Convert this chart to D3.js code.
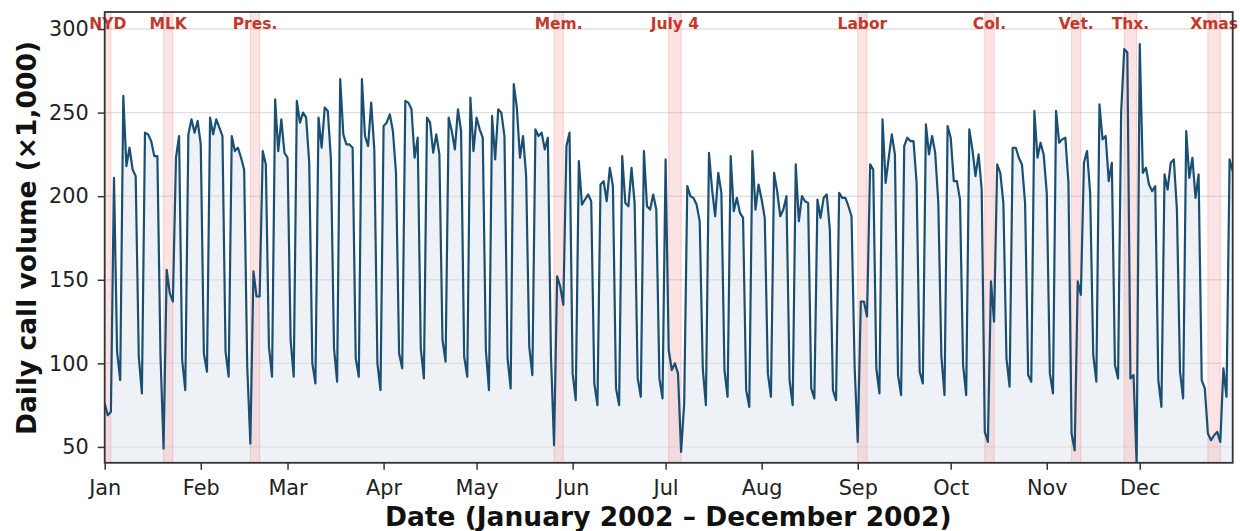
<!DOCTYPE html>
<meta charset="utf-8">
<html>
<head>
<script src="https://cdn.jsdelivr.net/npm/d3@7"></script>
<style>
  body { margin: 0; background: #fff; }
  text { font-family: "DejaVu Sans", sans-serif; }
</style>
</head>
<body>
<div id="chart"></div>
<script>
// daily call volume (x1,000), one row per week, starting Tue 1 Jan 2002
const volume = [
  76, 69, 71, 211, 107, 90, 260,
  218, 229, 216, 212, 104, 82, 238,
  237, 233, 224, 224, 105, 49, 156,
  142, 137, 223, 236, 102, 84, 237,
  246, 238, 245, 231, 106, 95, 247,
  237, 246, 241, 236, 107, 92, 236,
  227, 229, 223, 216, 98, 52, 155,
  140, 140, 227, 219, 110, 92, 258,
  227, 246, 226, 223, 114, 92, 257,
  244, 250, 247, 220, 100, 88, 247,
  229, 253, 251, 222, 109, 89, 270,
  237, 231, 231, 229, 103, 92, 270,
  236, 230, 256, 228, 100, 84, 242,
  244, 249, 239, 214, 106, 97, 257,
  256, 252, 223, 235, 109, 91, 247,
  244, 226, 237, 225, 114, 101, 247,
  239, 228, 252, 239, 104, 92, 259,
  227, 247, 240, 235, 108, 84, 248,
  222, 252, 250, 236, 103, 85, 267,
  253, 223, 236, 212, 110, 93, 240,
  236, 238, 228, 235, 105, 51, 152,
  146, 135, 230, 238, 94, 78, 221,
  195, 198, 201, 197, 88, 75, 207,
  209, 197, 217, 206, 85, 75, 224,
  196, 194, 217, 196, 91, 80, 227,
  194, 192, 201, 192, 91, 79, 222,
  108, 96, 100, 94, 47, 76, 206,
  200, 199, 195, 185, 97, 75, 226,
  204, 188, 214, 202, 96, 80, 224,
  191, 199, 190, 187, 84, 74, 227,
  192, 207, 198, 187, 94, 80, 214,
  203, 188, 192, 200, 90, 75, 219,
  185, 200, 197, 196, 85, 79, 198,
  187, 199, 201, 180, 84, 78, 202,
  199, 199, 194, 188, 98, 53, 137,
  137, 128, 219, 216, 97, 82, 246,
  208, 223, 237, 225, 93, 81, 230,
  235, 233, 233, 208, 95, 88, 243,
  225, 236, 226, 196, 104, 81, 242,
  235, 209, 209, 198, 99, 81, 240,
  228, 212, 225, 204, 59, 53, 149,
  125, 219, 214, 196, 103, 86, 229,
  229, 223, 219, 196, 93, 89, 251,
  223, 232, 225, 202, 94, 82, 251,
  232, 234, 235, 208, 58, 48, 149,
  141, 220, 227, 202, 105, 89, 255,
  234, 236, 209, 220, 99, 91, 250,
  288, 286, 91, 93, 40, 291, 214,
  217, 207, 203, 206, 90, 74, 213,
  204, 220, 222, 192, 95, 79, 239,
  211, 223, 199, 213, 90, 85, 58,
  54, 57, 59, 53, 97, 80, 222,
  215
];

// holiday windows (shaded)
const holidayNames = ["NYD", "MLK", "Pres.", "Mem.", "July 4", "Labor", "Col.", "Vet.", "Thx.", "Xmas"];
const holidayStart = ["2001-12-30", "2002-01-20", "2002-02-17", "2002-05-26", "2002-07-02", "2002-09-01", "2002-10-12", "2002-11-09", "2002-11-26", "2002-12-23"];
const holidayEnd   = ["2002-01-03", "2002-01-23", "2002-02-20", "2002-05-29", "2002-07-06", "2002-09-04", "2002-10-15", "2002-11-12", "2002-11-30", "2002-12-27"];

const monthLabels = ["Jan", "Feb", "Mar", "Apr", "May", "Jun", "Jul", "Aug", "Sep", "Oct", "Nov", "Dec"];
const yTicks = [50, 100, 150, 200, 250, 300];

const W = 1240, H = 531;
const pLeft = 104.7, pRight = 1232.7, pTop = 12, pBottom = 462.8;

const start = new Date(Date.UTC(2002, 0, 1));
const data = volume.map((v, i) => ({ date: d3.utcDay.offset(start, i), v: v }));

const x = d3.scaleUtc()
  .domain([start, new Date(Date.UTC(2002, 11, 31))])
  .range([pLeft, pRight]);
const y = d3.scaleLinear()
  .domain([40.5, 310.2])
  .range([pBottom, pTop]);

const svg = d3.select("#chart").append("svg")
  .attr("width", W).attr("height", H);

svg.append("defs").append("clipPath").attr("id", "clip")
  .append("rect").attr("x", pLeft).attr("y", pTop)
  .attr("width", pRight - pLeft).attr("height", pBottom - pTop);

const plot = svg.append("g").attr("clip-path", "url(#clip)");

// area under the line
plot.append("path")
  .datum(data)
  .attr("fill", "#eef2f6")
  .attr("d", d3.area().x(d => x(d.date)).y0(pBottom).y1(d => y(d.v)));

// grid
plot.selectAll(".grid").data(yTicks).join("line")
  .attr("x1", pLeft).attr("x2", pRight)
  .attr("y1", d => y(d)).attr("y2", d => y(d))
  .attr("stroke", "#e0e0e0").attr("stroke-width", 1.4);

// holiday bands
const parse = d3.utcParse("%Y-%m-%d");
const hol = holidayNames.map((n, i) => ({ name: n, s: parse(holidayStart[i]), e: parse(holidayEnd[i]) }));

plot.selectAll(".band").data(hol).join("rect")
  .attr("x", d => x(d.s))
  .attr("width", d => x(d.e) - x(d.s))
  .attr("y", pTop).attr("height", pBottom - pTop)
  .attr("fill", "#f8a5a5").attr("fill-opacity", 0.3)
  .attr("stroke", "#f08a8a").attr("stroke-opacity", 0.35).attr("stroke-width", 1);

// line
plot.append("path")
  .datum(data)
  .attr("fill", "none")
  .attr("stroke", "#1b4f72")
  .attr("stroke-width", 2.2)
  .attr("stroke-linejoin", "round")
  .attr("d", d3.line().x(d => x(d.date)).y(d => y(d.v)));

// holiday labels, centred on the visible part of the band
svg.selectAll(".hlab").data(hol).join("text")
  .attr("x", d => (Math.max(x(d.s), pLeft) + x(d.e)) / 2)
  .attr("y", 29)
  .attr("text-anchor", "middle")
  .attr("fill", "#c0392b")
  .attr("font-weight", "bold")
  .attr("font-size", "15.5px")
  .text(d => d.name);

// axes
const xAxis = svg.append("g")
  .attr("transform", `translate(0,${pBottom})`)
  .call(d3.axisBottom(x)
    .tickValues(d3.utcMonth.range(start, new Date(Date.UTC(2003, 0, 1))))
    .tickSize(7).tickPadding(10)
    .tickFormat((d, i) => monthLabels[i]));
xAxis.select(".domain").remove();
xAxis.selectAll("line").attr("stroke", "#333").attr("stroke-width", 1.5);
xAxis.selectAll("text").attr("font-size", "20.8px").attr("fill", "#222")
  .attr("font-family", "DejaVu Sans");

const yAxis = svg.append("g")
  .attr("transform", `translate(${pLeft},0)`)
  .call(d3.axisLeft(y).tickValues(yTicks).tickSize(7).tickPadding(9));
yAxis.select(".domain").remove();
yAxis.selectAll("line").attr("stroke", "#333").attr("stroke-width", 1.5);
yAxis.selectAll("text").attr("font-size", "20.8px").attr("fill", "#222")
  .attr("font-family", "DejaVu Sans");

// frame
svg.append("rect")
  .attr("x", pLeft).attr("y", pTop)
  .attr("width", pRight - pLeft).attr("height", pBottom - pTop)
  .attr("fill", "none").attr("stroke", "#333").attr("stroke-width", 1.8);

// axis titles
svg.append("text")
  .attr("x", (pLeft + pRight) / 2 - 0.5).attr("y", 526)
  .attr("text-anchor", "middle")
  .attr("font-weight", "bold").attr("font-size", "26.5px").attr("fill", "#111")
  .text("Date (January 2002 – December 2002)");

svg.append("text")
  .attr("transform", "translate(36,238) rotate(-90)")
  .attr("text-anchor", "middle")
  .attr("font-weight", "bold").attr("font-size", "26.5px").attr("fill", "#111")
  .text("Daily call volume (×1,000)");
</script>
</body>
</html>
